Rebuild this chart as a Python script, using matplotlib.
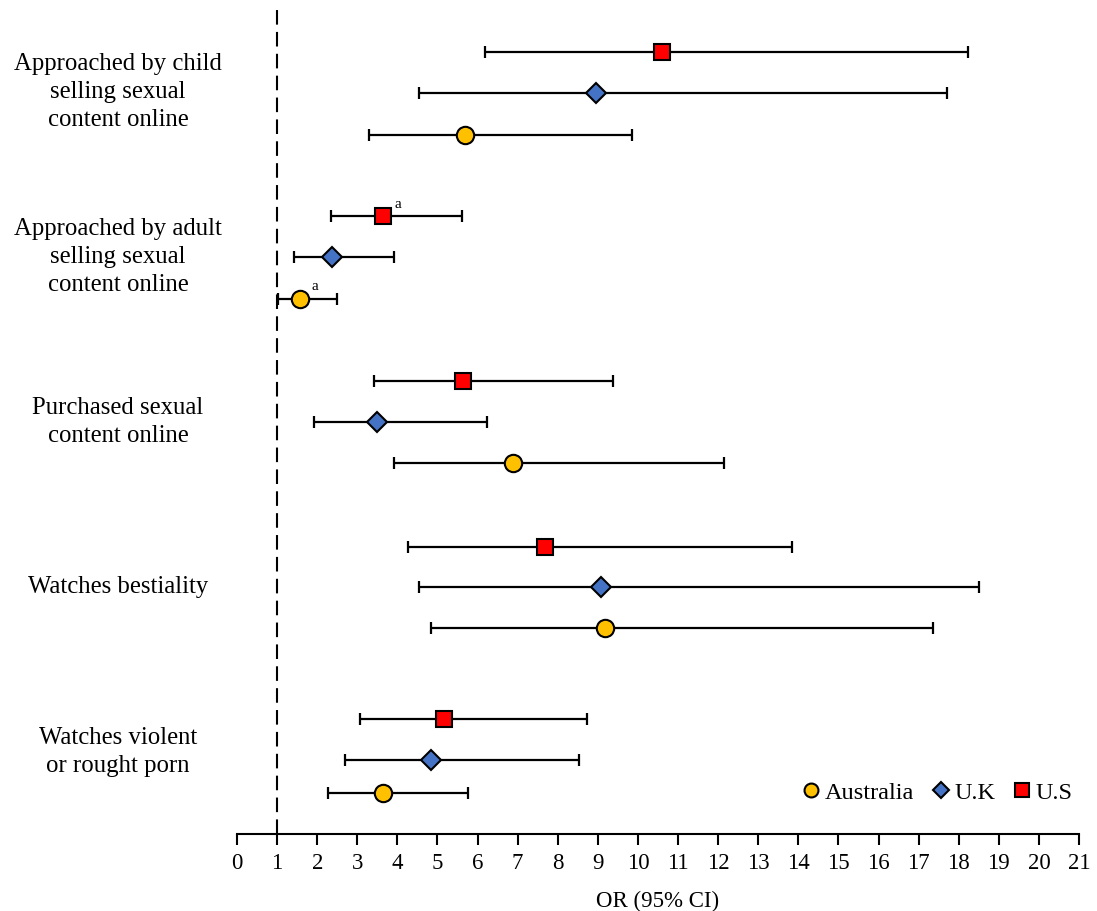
import matplotlib
matplotlib.use("Agg")
import matplotlib.pyplot as plt
from matplotlib.lines import Line2D
from matplotlib import transforms

plt.rcParams['font.family'] = ['Liberation Serif', 'DejaVu Serif']

categories = ["Approached by child\nselling sexual\ncontent online",
              "Approached by adult\nselling sexual\ncontent online",
              "Purchased sexual\ncontent online",
              "Watches bestiality",
              "Watches violent\nor rought porn"]
countries = ["Australia", "U.K", "U.S"]

# OR and 95% CI per category (order as categories)
au_or = [5.68, 1.58, 6.88, 9.19, 3.63]
au_lo = [3.29, 1.03, 3.91, 4.85, 2.26]
au_hi = [9.86, 2.49, 12.14, 17.35, 5.77]

uk_or = [8.95, 2.37, 3.49, 9.08, 4.85]
uk_lo = [4.54, 1.41, 1.91, 4.54, 2.70]
uk_hi = [17.70, 3.92, 6.23, 18.50, 8.52]

us_or = [10.61, 3.64, 5.64, 7.68, 5.17]
us_lo = [6.18, 2.35, 3.42, 4.27, 3.06]
us_hi = [18.22, 5.60, 9.38, 13.85, 8.74]

# vertical row positions (layout)
au_y = [17.05, 13.05, 9.05, 5.02, 1.0]
uk_y = [18.07, 14.07, 10.05, 6.02, 1.8]
us_y = [19.07, 15.07, 11.05, 7.0, 2.8]
label_y = [18.1, 14.07, 10.05, 6.02, 2.0]

# superscript notes: (series, category index)
notes = [("U.S", 1), ("Australia", 1)]

fig = plt.figure(figsize=(10.97, 9.11), dpi=100)
ax = fig.add_axes([237/1097, 1-834/911, (1079-237)/1097, (834-10)/911])
ax.set_xlim(0, 21)
ax.set_ylim(0, 20.1)

styles = {
    "Australia": dict(marker='o', color='#FFC000', ms=12.5),
    "U.K": dict(marker='D', color='#4472C4', ms=10),
    "U.S": dict(marker='s', color='#FF0000', ms=12),
}
data = {
    "Australia": (au_or, au_lo, au_hi, au_y),
    "U.K": (uk_or, uk_lo, uk_hi, uk_y),
    "U.S": (us_or, us_lo, us_hi, us_y),
}

ax.axvline(1, color='black', lw=1.5, ls=(0, (7, 3.5)), zorder=1)

for c in countries:
    o, lo, hi, y = data[c]
    xerr = [[oi - l for oi, l in zip(o, lo)], [h - oi for oi, h in zip(o, hi)]]
    st = styles[c]
    ax.errorbar(o, y, xerr=xerr, fmt='none', ecolor='black', elinewidth=1.6,
                capsize=4, capthick=1.6, zorder=2)
    ax.plot(o, y, linestyle='none', marker=st['marker'], markersize=st['ms'],
            markerfacecolor=st['color'], markeredgecolor='black',
            markeredgewidth=1.5, zorder=3)

for c, i in notes:
    o, lo, hi, y = data[c]
    ax.annotate("a", (o[i], y[i]), xytext=(8, 4), textcoords='offset points',
                fontsize=11, ha='left', va='bottom')

trans = transforms.blended_transform_factory(fig.transFigure, ax.transData)
for lab, yy in zip(categories, label_y):
    ax.text(118/1097, yy, lab, transform=trans, ha='center', va='center',
            fontsize=17.8, linespacing=1.36, clip_on=False)

ax.set_xticks(range(0, 22))
ax.set_yticks([])
for s in ['left', 'right', 'top']:
    ax.spines[s].set_visible(False)
ax.spines['bottom'].set_linewidth(1.5)
ax.tick_params(axis='x', direction='out', length=8, width=1.5, labelsize=16.5, pad=6)
ax.set_xlabel("OR (95% CI)", fontsize=16.5, labelpad=12)

handles = [Line2D([], [], linestyle='none', marker=styles[c]['marker'],
                  markerfacecolor=styles[c]['color'], markeredgecolor='black',
                  markeredgewidth=1.5,
                  markersize=styles[c]['ms'] * 0.8) for c in countries]
ax.legend(handles, countries, loc='lower right', bbox_to_anchor=(1.018, 0.01),
          ncol=3, frameon=False, fontsize=17.5, handletextpad=0.0,
          columnspacing=0.55, handlelength=1.1)

fig.savefig("out.png", dpi=100)
